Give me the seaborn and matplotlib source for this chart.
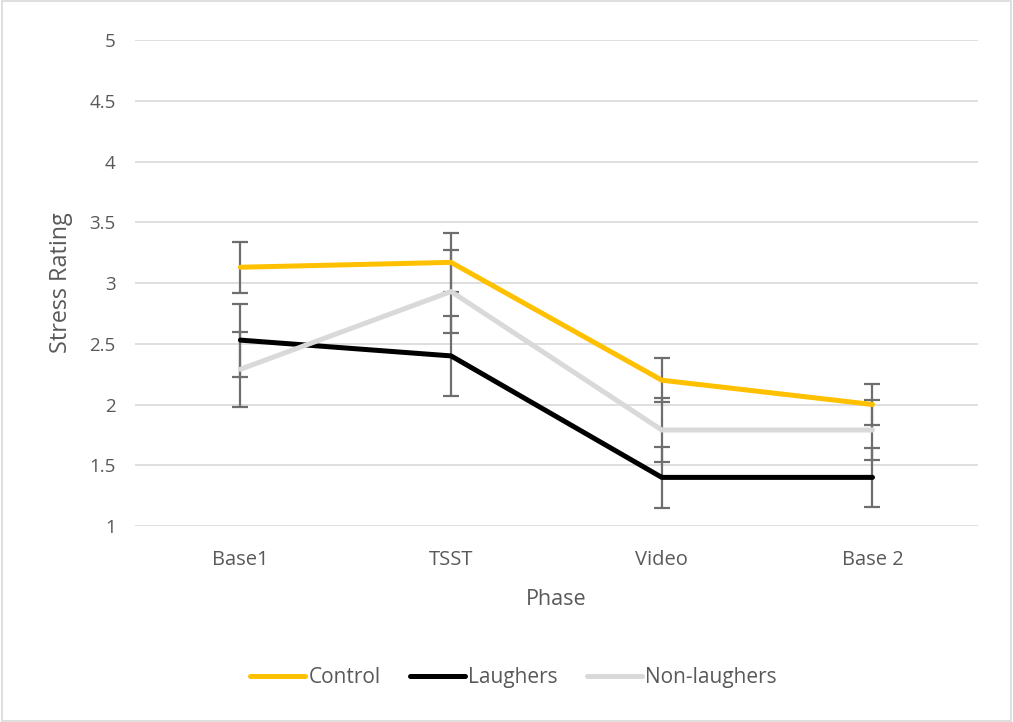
import numpy as np
import pandas as pd
import matplotlib
matplotlib.use("Agg")
import matplotlib.pyplot as plt
import seaborn as sns

phases = ["Base1", "TSST", "Video", "Base 2"]
groups = ["Control", "Laughers", "Non-laughers"]

control = [3.13, 3.17, 2.20, 2.00]
laughers = [2.53, 2.40, 1.40, 1.40]
non_laughers = [2.29, 2.93, 1.79, 1.79]

control_err = [0.21, 0.24, 0.18, 0.17]
laughers_err = [0.30, 0.33, 0.25, 0.24]
non_laughers_err = [0.31, 0.34, 0.26, 0.25]

colors = {"Control": "#FFC000", "Laughers": "#000000", "Non-laughers": "#D9D9D9"}

df = pd.DataFrame({
    "Phase": phases * 3,
    "Group": np.repeat(groups, len(phases)),
    "Stress Rating": control + laughers + non_laughers,
})
errs = {"Control": control_err, "Laughers": laughers_err, "Non-laughers": non_laughers_err}

sns.set_style("white")
plt.rcParams["font.family"] = ["Open Sans", "DejaVu Sans"]

fig = plt.figure(figsize=(10.13, 7.22), dpi=100)
ax = fig.add_axes([0.1333, 0.2715, 0.832, 0.673])

sns.lineplot(data=df, x="Phase", y="Stress Rating", hue="Group", palette=colors,
             linewidth=3.6, ax=ax, legend=False, zorder=3, sort=False)

# error bars, drawn under the lines
xs = np.arange(len(phases))
for g in groups:
    vals = df.loc[df["Group"] == g, "Stress Rating"].values
    ax.errorbar(xs, vals, yerr=errs[g], fmt="none", ecolor="#6E6E6E",
                elinewidth=1.6, capsize=6, capthick=1.6, zorder=2)

ax.set_xlim(-0.5, 3.5)
ax.set_ylim(1, 5)
ax.set_yticks(np.arange(1, 5.01, 0.5))
ax.set_yticklabels(["1", "1.5", "2", "2.5", "3", "3.5", "4", "4.5", "5"])
ax.grid(axis="y", color="#D9D9D9", linewidth=1.2, zorder=0)
ax.set_axisbelow(True)
for s in ax.spines.values():
    s.set_visible(False)
ax.tick_params(axis="y", length=0, labelsize=13.5, labelcolor="#595959", pad=14)
ax.tick_params(axis="x", length=0, labelsize=14.5, labelcolor="#595959", pad=17)
ax.set_xlabel("Phase", fontsize=15.5, color="#595959", labelpad=14)
ax.set_ylabel("Stress Rating", fontsize=16.8, color="#595959")
ax.yaxis.set_label_coords(-0.074, 0.5)

handles = [plt.Line2D([0], [0], color=colors[g], linewidth=3.6) for g in groups]
fig.legend(handles, groups, loc="center", bbox_to_anchor=(0.507, 0.061), ncol=3,
           frameon=False, fontsize=15, labelcolor="#595959", handlelength=2.65,
           handletextpad=0.15, columnspacing=1.4)

fig.patches.append(plt.Rectangle((0.002, 0.002), 0.996, 0.996, transform=fig.transFigure,
                                 fill=False, edgecolor="#D9D9D9", linewidth=1.2))

fig.savefig("out.png", dpi=100)
